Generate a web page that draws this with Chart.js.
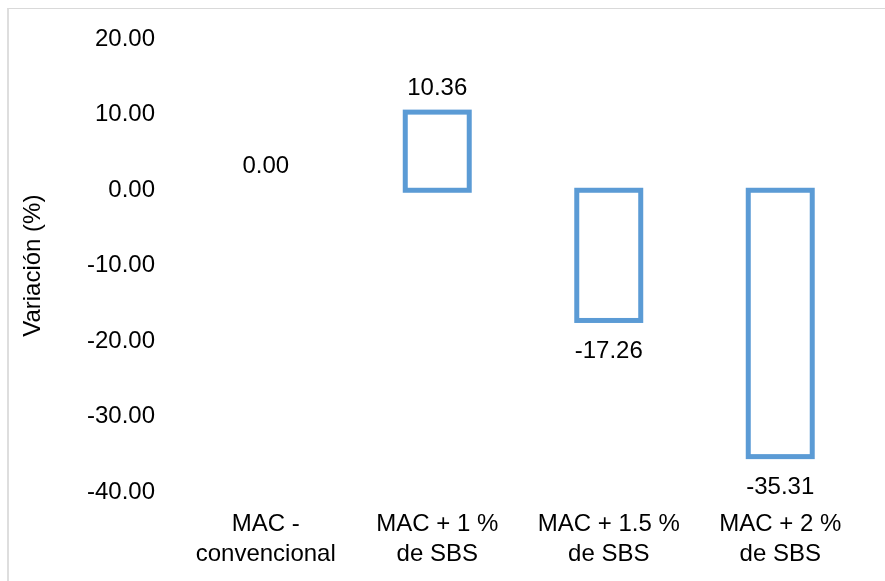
<!DOCTYPE html>
<html>
<head>
<meta charset="utf-8">
<script src="https://cdn.jsdelivr.net/npm/chart.js@4"></script>
<style>
  html, body { margin: 0; padding: 0; background: #ffffff; }
  #marco { position: absolute; left: 7px; top: 8px; width: 900px; height: 600px; border-left: 2px solid #dedede; border-top: 1px solid #d9d9d9; }
  #caja { position: absolute; left: 0; top: 0; width: 885px; height: 581px; }
</style>
</head>
<body>
<div id="marco"></div>
<div id="caja"><canvas id="grafico" width="885" height="581"></canvas></div>
<script>
const categorias = [['MAC -', 'convencional'], ['MAC + 1 %', 'de SBS'], ['MAC + 1.5 %', 'de SBS'], ['MAC + 2 %', 'de SBS']];
const variacion = [0.00, 10.36, -17.26, -35.31];
const ejeMin = -40;
const ejeMax = 20;
const ejePaso = 10;

const fuente = 'Liberation Sans, Arial, sans-serif';
const azul = '#5b9bd5';

// contorno de las barras, trazo centrado sobre el borde (estilo Excel)
const contornoBarras = {
  id: 'contornoBarras',
  afterDatasetsDraw(chart) {
    const ctx = chart.ctx;
    const meta = chart.getDatasetMeta(0);
    ctx.save();
    ctx.strokeStyle = azul;
    ctx.lineWidth = 5;
    meta.data.forEach((barra, i) => {
      if (variacion[i] === 0) return;
      const p = barra.getProps(['x', 'y', 'base', 'width'], true);
      const top = Math.min(p.y, p.base);
      const alto = Math.abs(p.base - p.y);
      ctx.strokeRect(p.x - p.width / 2, top, p.width, alto);
    });
    ctx.restore();
  }
};

// etiquetas con el valor encima / debajo de cada barra
const etiquetasValor = {
  id: 'etiquetasValor',
  afterDatasetsDraw(chart) {
    const ctx = chart.ctx;
    const meta = chart.getDatasetMeta(0);
    ctx.save();
    ctx.font = '24px ' + fuente;
    ctx.fillStyle = '#000000';
    ctx.textAlign = 'center';
    ctx.textBaseline = 'middle';
    meta.data.forEach((barra, i) => {
      const v = variacion[i];
      const y = v >= 0 ? barra.y - 24 : barra.y + 31;
      ctx.fillText(v.toFixed(2), barra.x, y);
    });
    ctx.restore();
  }
};

const ctx = document.getElementById('grafico').getContext('2d');
const chart = new Chart(ctx, {
  type: 'bar',
  data: {
    labels: categorias,
    datasets: [{
      data: variacion,
      backgroundColor: '#ffffff',
      borderWidth: 0,
      barPercentage: 0.373,
      categoryPercentage: 1
    }]
  },
  options: {
    responsive: false,
    animation: false,
    layout: { padding: { left: 10, right: 19, top: 36, bottom: 0 } },
    plugins: {
      legend: { display: false },
      tooltip: { enabled: false }
    },
    scales: {
      x: {
        grid: { display: false, drawTicks: false },
        border: { display: false },
        ticks: {
          color: '#000000',
          padding: 17,
          maxRotation: 0,
          autoSkip: false,
          font: { family: fuente, size: 24, lineHeight: 1.25 }
        },
        afterFit: s => { s.height = 89; }
      },
      y: {
        min: ejeMin,
        max: ejeMax,
        grid: { display: false, drawTicks: false },
        border: { display: false },
        ticks: {
          stepSize: ejePaso,
          color: '#000000',
          padding: 25,
          font: { family: fuente, size: 24 },
          callback: v => v.toFixed(2)
        },
        title: {
          display: true,
          text: 'Variación (%)',
          color: '#000000',
          padding: { top: 9, bottom: 0 },
          font: { family: fuente, size: 24, lineHeight: 1.2 }
        },
        afterFit: s => { s.width = 170; }
      }
    }
  },
  plugins: [contornoBarras, etiquetasValor]
});
</script>
</body>
</html>
